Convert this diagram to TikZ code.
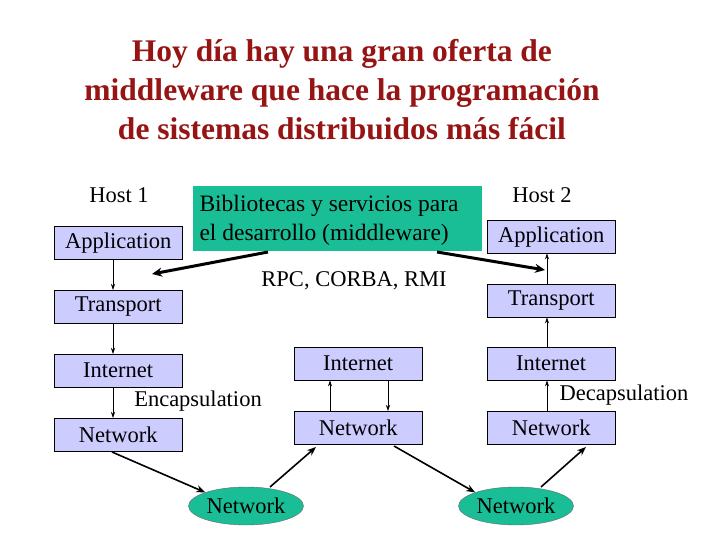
\documentclass[tikz,border=0pt]{standalone}
\usepackage{fontspec}
\setmainfont{Liberation Serif}
\usetikzlibrary{shapes.geometric,arrows.meta}
\definecolor{lav}{RGB}{204,204,255}
\definecolor{grn}{RGB}{26,190,150}
\definecolor{ttl}{RGB}{150,20,20}
\begin{document}
\begin{tikzpicture}[x=1pt,y=-1pt,
  lay/.style={draw=black,fill=lav,minimum width=128pt,minimum height=33pt,anchor=north west,inner sep=0pt,font=\fontsize{22.5}{24}\selectfont},
  net/.style={ellipse,draw=black!60,fill=grn,minimum width=115pt,minimum height=38pt,inner sep=0pt,font=\fontsize{22.5}{24}\selectfont},
  thin/.style={-{Stealth[length=6pt,width=4pt]},line width=0.6pt},
  thick/.style={-{Stealth[length=10pt,width=9pt]},line width=3pt},
  lbl/.style={font=\fontsize{22.5}{24}\selectfont}]
\useasboundingbox (0,0) rectangle (720,540);
\node[font=\fontsize{31.5}{39}\selectfont\bfseries,text=ttl,align=center] (title) at (342,90) {Hoy día hay una gran oferta de\\middleware que hace la programación\\de sistemas distribuidos más fácil};
\node[lay] (a1) at (54,226) {Application};
\node[lay] (t1) at (54,290) {Transport};
\node[lay] (i1) at (54,354) {Internet};
\node[lay] (n1) at (54,418) {Network};
\node[lay] (im) at (294,347) {Internet};
\node[lay] (nm) at (294,411) {Network};
\node[lay] (a2) at (487,220) {Application};
\node[lay] (t2) at (487,284) {Transport};
\node[lay] (i2) at (487,347) {Internet};
\node[lay] (n2) at (487,411) {Network};
\node[net] (e1) at (246,506) {Network};
\node[net] (e2) at (516,506) {Network};
\node[fill=grn,minimum width=289pt,minimum height=65pt,anchor=north west,inner sep=0pt] (mw) at (193,186) {};
\node[font=\fontsize{23.5}{29}\selectfont,align=left,anchor=west] (mwt) at (196,220) {Bibliotecas y servicios para\\el desarrollo (middleware)};
\node[lbl] (h1) at (119,195) {Host 1};
\node[lbl] (h2) at (542,195) {Host 2};
\node[lbl] (rpc) at (354,281) {RPC, CORBA, RMI};
\node[lbl] (enc) at (198,401) {Encapsulation};
\node[lbl] (dec) at (624,395) {Decapsulation};
\coordinate (la) at (152,274);
\coordinate (ra) at (545,270);
\draw[thick] (268,252) -- (la);
\draw[thick] (437,252) -- (ra);
\draw[thin] (a1.south -| 113,0) -- (t1.north -| 113,0);
\draw[thin] (t1.south -| 113,0) -- (i1.north -| 113,0);
\draw[thin] (i1.south -| 113,0) -- (n1.north -| 113,0);
\draw[thin] (nm.north -| 330,0) -- (im.south -| 330,0);
\draw[thin] (im.south -| 388,0) -- (nm.north -| 388,0);
\draw[thin] (n2.north -| 547,0) -- (i2.south -| 547,0);
\draw[thin] (i2.north -| 547,0) -- (t2.south -| 547,0);
\draw[thin] (t2.north -| 547,0) -- (a2.south -| 547,0);
\draw[-{Stealth[length=9pt,width=7pt]},line width=1.6pt] (112,452) -- (e1.north west);
\draw[-{Stealth[length=9pt,width=7pt]},line width=1.6pt] (270,487) -- (316,447);
\draw[-{Stealth[length=9pt,width=7pt]},line width=1.6pt] (394,446) -- (e2.north west);
\draw[-{Stealth[length=9pt,width=7pt]},line width=1.6pt] (541,487) -- (586,447);
\end{tikzpicture}
\end{document}
